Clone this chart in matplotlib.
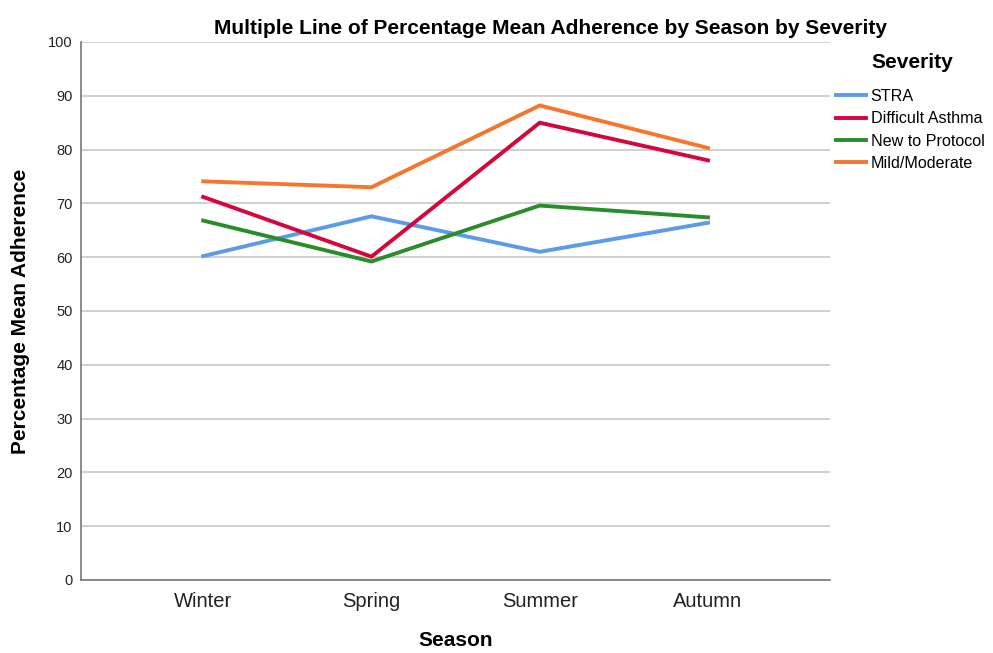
import matplotlib.pyplot as plt

plt.rcParams['font.family'] = ['Liberation Sans', 'DejaVu Sans']

seasons = ["Winter", "Spring", "Summer", "Autumn"]
stra = [60.2, 67.6, 61.0, 66.4]
difficult = [71.2, 60.1, 85.0, 78.0]
new_protocol = [66.8, 59.2, 69.6, 67.4]
mild = [74.1, 73.0, 88.2, 80.3]

series = [
    ("STRA", stra, '#5b9be8'),
    ("Difficult Asthma", difficult, '#d4073c'),
    ("New to Protocol", new_protocol, '#2b8c2b'),
    ("Mild/Moderate", mild, '#f5772f'),
]

fig = plt.figure(figsize=(9.93, 6.53), dpi=100)
ax = fig.add_axes([0.0816, 0.1118, 0.7544, 0.8239])

x = range(len(seasons))
for name, vals, col in series:
    ax.plot(x, vals, color=col, lw=2.8, label=name, solid_joinstyle='miter')

ax.set_xlim(-0.726, 3.726)
ax.set_ylim(0, 100)
ax.set_yticks(range(0, 101, 10))
ax.set_xticks(list(x))
ax.set_xticklabels(seasons, fontsize=14.5, color='#222222')
ax.tick_params(axis='y', labelsize=10.5, length=0, pad=6, colors='#222222')
ax.tick_params(axis='x', length=0, pad=9)
ax.yaxis.grid(True, color='#c8c8c8', lw=1.2)
ax.set_axisbelow(True)
for s in ['top', 'right']:
    ax.spines[s].set_visible(False)
for s in ['left', 'bottom']:
    ax.spines[s].set_color('#777777')
    ax.spines[s].set_linewidth(1.2)

ax.set_ylabel("Percentage Mean Adherence", fontsize=15, fontweight='bold', labelpad=13)
ax.set_xlabel("Season", fontsize=15, fontweight='bold', labelpad=14)
fig.text(550 / 993, 1 - 28 / 653, "Multiple Line of Percentage Mean Adherence by Season by Severity",
         ha='center', va='center', fontsize=15, fontweight='bold')

# legend title placed separately, SPSS style gap below it
fig.text(912 / 993, 1 - 63 / 653, "Severity", ha='center', va='center',
         fontsize=15, fontweight='bold')
fig.legend(*ax.get_legend_handles_labels(), loc='upper left',
           bbox_to_anchor=(836 / 993, 1 - 89 / 653), frameon=False,
           fontsize=11.6, handlelength=1.85, handletextpad=0.3,
           labelspacing=0.45, borderpad=0, borderaxespad=0)

fig.savefig("out.png", dpi=100)
